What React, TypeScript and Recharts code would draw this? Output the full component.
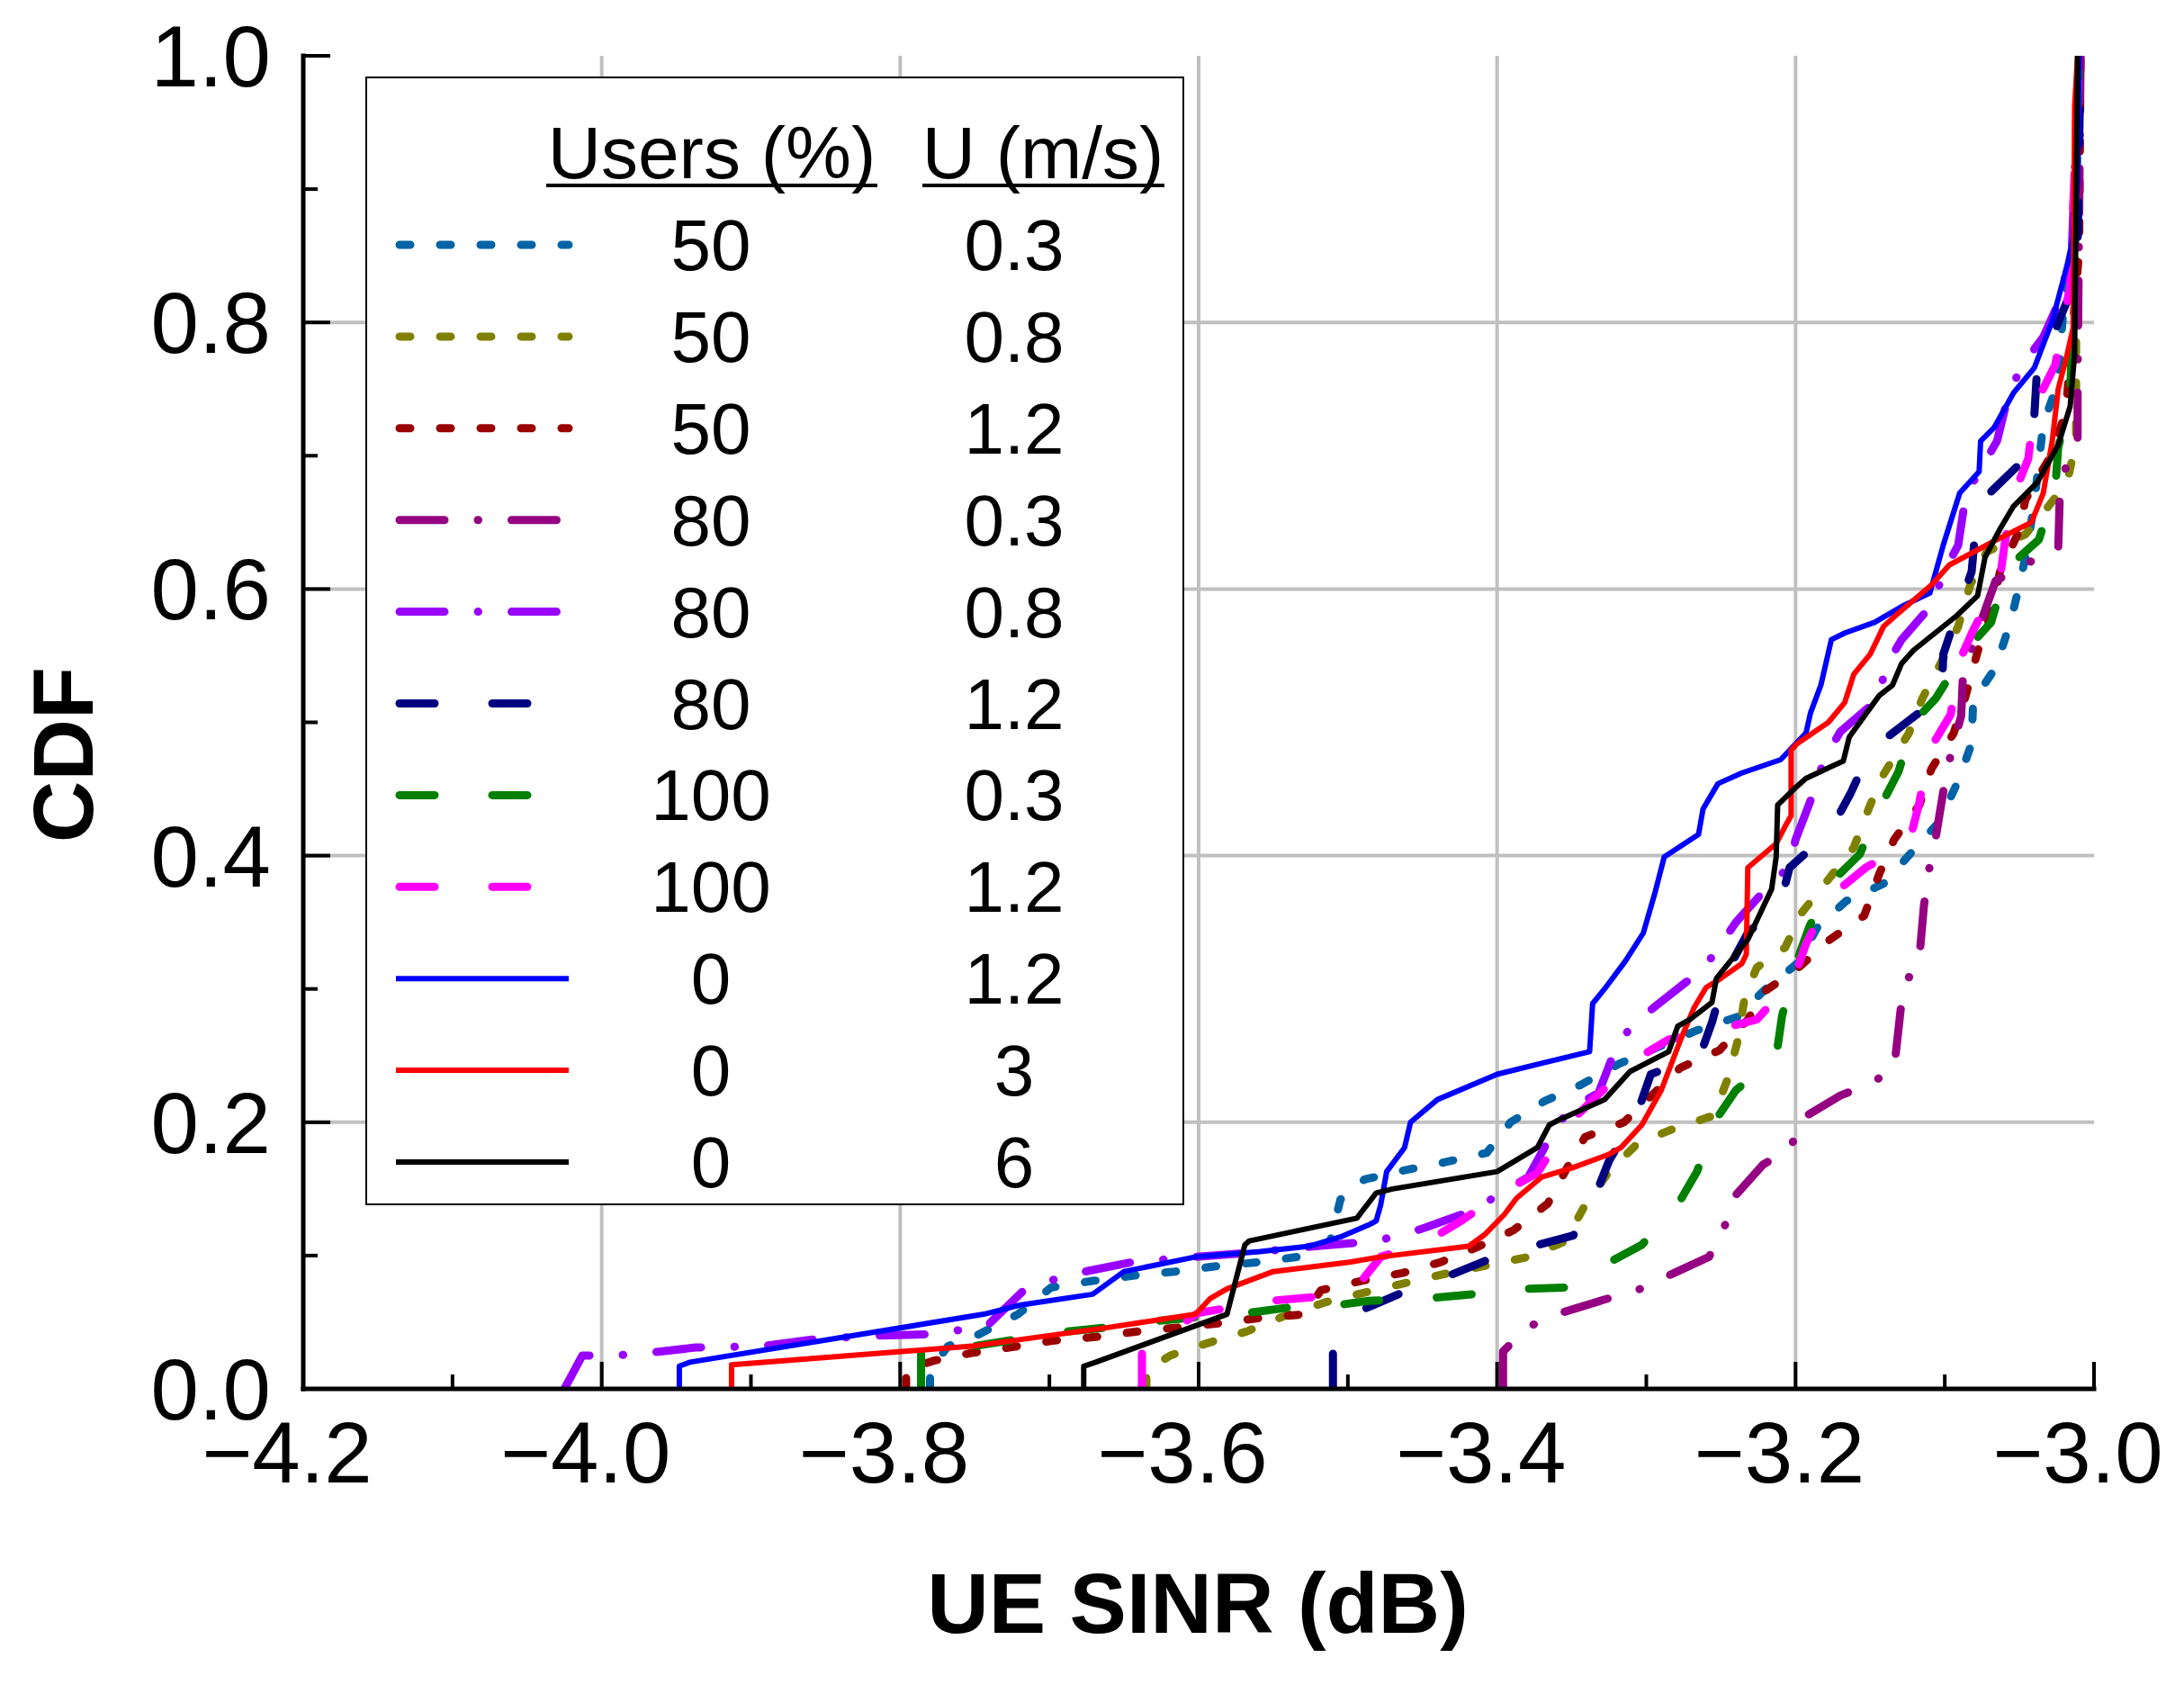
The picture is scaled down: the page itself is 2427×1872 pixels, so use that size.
import React from "react";
import { LineChart, Line, XAxis, YAxis, CartesianGrid, Legend } from "recharts";

type Pt = [number, number];

// CDF curves, [SINR (dB), CDF]
const U50_V03: Pt[] = [
  [-3.78, 0], [-3.78, 0.014], [-3.768, 0.032], [-3.747, 0.041], [-3.721, 0.056], [-3.699, 0.076],
  [-3.671, 0.081], [-3.643, 0.085], [-3.616, 0.088], [-3.588, 0.092], [-3.56, 0.095], [-3.534, 0.099],
  [-3.512, 0.11], [-3.505, 0.142], [-3.489, 0.157], [-3.462, 0.164], [-3.435, 0.17], [-3.407, 0.177],
  [-3.391, 0.2], [-3.368, 0.216], [-3.344, 0.228], [-3.318, 0.244], [-3.293, 0.256], [-3.266, 0.269],
  [-3.239, 0.279], [-3.221, 0.299], [-3.199, 0.319], [-3.185, 0.347], [-3.166, 0.366], [-3.141, 0.379],
  [-3.121, 0.404], [-3.104, 0.425], [-3.091, 0.456], [-3.082, 0.484], [-3.081, 0.516], [-3.066, 0.541],
  [-3.056, 0.575], [-3.05, 0.603], [-3.045, 0.629], [-3.04, 0.665], [-3.034, 0.724], [-3.024, 0.755],
  [-3.022, 0.789], [-3.02, 0.817], [-3.013, 0.848], [-3.012, 0.879], [-3.01, 1.0],
];
const U50_V08: Pt[] = [
  [-3.635, 0], [-3.635, 0.014], [-3.619, 0.025], [-3.595, 0.034], [-3.568, 0.043], [-3.544, 0.054],
  [-3.515, 0.065], [-3.486, 0.073], [-3.459, 0.08], [-3.432, 0.087], [-3.405, 0.093], [-3.379, 0.099],
  [-3.354, 0.111], [-3.341, 0.138], [-3.325, 0.163], [-3.306, 0.184], [-3.282, 0.195], [-3.255, 0.205],
  [-3.246, 0.231], [-3.239, 0.26], [-3.234, 0.294], [-3.226, 0.316], [-3.207, 0.331], [-3.196, 0.357],
  [-3.161, 0.406], [-3.15, 0.438], [-3.141, 0.461], [-3.124, 0.492], [-3.115, 0.518], [-3.102, 0.546],
  [-3.091, 0.572], [-3.083, 0.603], [-3.072, 0.628], [-3.046, 0.641], [-3.032, 0.66], [-3.018, 0.68],
  [-3.012, 0.711], [-3.012, 0.82], [-3.01, 1.0],
];
const U50_V12: Pt[] = [
  [-3.796, 0], [-3.796, 0.014], [-3.778, 0.021], [-3.752, 0.027], [-3.727, 0.031], [-3.699, 0.036],
  [-3.669, 0.039], [-3.641, 0.043], [-3.614, 0.046], [-3.588, 0.049], [-3.56, 0.053], [-3.529, 0.056],
  [-3.518, 0.074], [-3.491, 0.081], [-3.463, 0.087], [-3.438, 0.095], [-3.412, 0.107], [-3.389, 0.119],
  [-3.366, 0.139], [-3.353, 0.166], [-3.341, 0.189], [-3.315, 0.2], [-3.277, 0.241], [-3.251, 0.254],
  [-3.232, 0.277], [-3.221, 0.298], [-3.199, 0.315], [-3.177, 0.337], [-3.154, 0.355], [-3.144, 0.386],
  [-3.134, 0.412], [-3.117, 0.438], [-3.109, 0.465], [-3.094, 0.492], [-3.086, 0.52], [-3.078, 0.553],
  [-3.069, 0.582], [-3.063, 0.613], [-3.05, 0.644], [-3.046, 0.667], [-3.03, 0.698], [-3.019, 0.732],
  [-3.01, 0.853], [-3.009, 1.0],
];
const U80_V03: Pt[] = [
  [-3.396, 0], [-3.396, 0.028], [-3.38, 0.046], [-3.36, 0.056], [-3.328, 0.067], [-3.306, 0.074],
  [-3.289, 0.083], [-3.258, 0.099], [-3.248, 0.12], [-3.242, 0.143], [-3.222, 0.168], [-3.203, 0.181],
  [-3.197, 0.202], [-3.17, 0.22], [-3.15, 0.229], [-3.134, 0.24], [-3.128, 0.3], [-3.117, 0.324],
  [-3.114, 0.362], [-3.111, 0.387], [-3.106, 0.414], [-3.101, 0.448], [-3.097, 0.471], [-3.089, 0.505],
  [-3.088, 0.531], [-3.081, 0.559], [-3.066, 0.606], [-3.046, 0.619], [-3.024, 0.629], [-3.023, 0.668],
  [-3.019, 0.691], [-3.011, 0.711], [-3.011, 0.752], [-3.009, 1.0],
];
const U80_V08: Pt[] = [
  [-4.025, 0], [-4.013, 0.025], [-3.991, 0.025], [-3.969, 0.027], [-3.937, 0.031], [-3.893, 0.032],
  [-3.859, 0.037], [-3.816, 0.04], [-3.78, 0.041], [-3.761, 0.044], [-3.742, 0.047], [-3.718, 0.073],
  [-3.697, 0.082], [-3.676, 0.088], [-3.645, 0.095], [-3.602, 0.099], [-3.567, 0.102], [-3.522, 0.107],
  [-3.489, 0.11], [-3.468, 0.114], [-3.448, 0.121], [-3.416, 0.134], [-3.397, 0.147], [-3.379, 0.159],
  [-3.361, 0.196], [-3.35, 0.211], [-3.332, 0.222], [-3.322, 0.251], [-3.311, 0.271], [-3.294, 0.287],
  [-3.269, 0.309], [-3.255, 0.325], [-3.24, 0.35], [-3.22, 0.375], [-3.204, 0.392], [-3.2, 0.412],
  [-3.187, 0.45], [-3.181, 0.472], [-3.17, 0.493], [-3.144, 0.518], [-3.14, 0.541], [-3.129, 0.562],
  [-3.108, 0.589], [-3.101, 0.612], [-3.091, 0.633], [-3.086, 0.67], [-3.077, 0.688], [-3.065, 0.711],
  [-3.057, 0.747], [-3.048, 0.768], [-3.034, 0.789], [-3.026, 0.809], [-3.015, 0.85], [-3.01, 1.0],
];
const U80_V12: Pt[] = [
  [-3.51, 0], [-3.51, 0.027], [-3.491, 0.059], [-3.464, 0.072], [-3.432, 0.085], [-3.408, 0.096],
  [-3.376, 0.107], [-3.349, 0.115], [-3.336, 0.14], [-3.325, 0.171], [-3.306, 0.207], [-3.297, 0.236],
  [-3.264, 0.25], [-3.256, 0.275], [-3.247, 0.311], [-3.232, 0.342], [-3.21, 0.365], [-3.204, 0.391],
  [-3.177, 0.418], [-3.163, 0.447], [-3.15, 0.479], [-3.128, 0.498], [-3.102, 0.52], [-3.101, 0.551],
  [-3.091, 0.585], [-3.082, 0.613], [-3.079, 0.65], [-3.069, 0.673], [-3.046, 0.698], [-3.04, 0.73],
  [-3.038, 0.768], [-3.028, 0.789], [-3.014, 0.827], [-3.011, 0.858], [-3.009, 1.0],
];
const U100_V03: Pt[] = [
  [-3.786, 0], [-3.786, 0.028], [-3.751, 0.032], [-3.723, 0.037], [-3.688, 0.043], [-3.662, 0.046],
  [-3.628, 0.051], [-3.6, 0.054], [-3.567, 0.057], [-3.54, 0.061], [-3.506, 0.063], [-3.486, 0.066],
  [-3.446, 0.068], [-3.416, 0.071], [-3.384, 0.075], [-3.354, 0.076], [-3.328, 0.093], [-3.303, 0.108],
  [-3.279, 0.138], [-3.266, 0.163], [-3.254, 0.201], [-3.24, 0.224], [-3.213, 0.249], [-3.209, 0.28],
  [-3.201, 0.315], [-3.191, 0.346], [-3.178, 0.378], [-3.157, 0.401], [-3.144, 0.435], [-3.131, 0.463],
  [-3.121, 0.5], [-3.106, 0.518], [-3.086, 0.554], [-3.069, 0.575], [-3.058, 0.616], [-3.037, 0.637],
  [-3.026, 0.675], [-3.024, 0.706], [-3.016, 0.742], [-3.01, 1.0],
];
const U100_V12: Pt[] = [
  [-3.638, 0], [-3.638, 0.029], [-3.6, 0.057], [-3.552, 0.066], [-3.522, 0.069], [-3.493, 0.078],
  [-3.478, 0.099], [-3.448, 0.11], [-3.424, 0.126], [-3.397, 0.147], [-3.373, 0.162], [-3.352, 0.199],
  [-3.333, 0.22], [-3.306, 0.248], [-3.285, 0.262], [-3.254, 0.269], [-3.226, 0.277], [-3.201, 0.308],
  [-3.193, 0.334], [-3.177, 0.369], [-3.153, 0.391], [-3.124, 0.409], [-3.117, 0.44], [-3.111, 0.478],
  [-3.096, 0.506], [-3.091, 0.544], [-3.081, 0.569], [-3.063, 0.608], [-3.06, 0.633], [-3.054, 0.67],
  [-3.044, 0.698], [-3.04, 0.737], [-3.026, 0.768], [-3.02, 0.804], [-3.016, 0.827], [-3.01, 1.0],
];
const U0_V12: Pt[] = [
  [-3.948, 0], [-3.948, 0.017], [-3.941, 0.02], [-3.744, 0.056], [-3.719, 0.063], [-3.671, 0.071],
  [-3.65, 0.088], [-3.602, 0.099], [-3.559, 0.103], [-3.526, 0.107], [-3.505, 0.114], [-3.486, 0.123],
  [-3.481, 0.126], [-3.478, 0.138], [-3.474, 0.163], [-3.462, 0.181], [-3.458, 0.2], [-3.44, 0.217],
  [-3.4, 0.236], [-3.371, 0.244], [-3.338, 0.253], [-3.336, 0.289], [-3.328, 0.3], [-3.314, 0.321],
  [-3.302, 0.342], [-3.294, 0.373], [-3.288, 0.399], [-3.265, 0.416], [-3.262, 0.435], [-3.252, 0.454],
  [-3.236, 0.462], [-3.21, 0.472], [-3.193, 0.492], [-3.19, 0.507], [-3.183, 0.528], [-3.176, 0.562],
  [-3.167, 0.567], [-3.147, 0.575], [-3.127, 0.588], [-3.11, 0.597], [-3.101, 0.633], [-3.09, 0.672],
  [-3.077, 0.688], [-3.076, 0.711], [-3.067, 0.721], [-3.054, 0.747], [-3.04, 0.766], [-3.028, 0.801],
  [-3.018, 0.843], [-3.014, 0.864], [-3.011, 0.905], [-3.01, 1.0],
];
const U0_V3: Pt[] = [
  [-3.913, 0], [-3.913, 0.018], [-3.799, 0.028], [-3.752, 0.032], [-3.661, 0.046], [-3.602, 0.056],
  [-3.592, 0.068], [-3.581, 0.075], [-3.55, 0.088], [-3.499, 0.095], [-3.478, 0.099], [-3.419, 0.107],
  [-3.408, 0.116], [-3.395, 0.131], [-3.387, 0.143], [-3.37, 0.159], [-3.349, 0.166], [-3.325, 0.176],
  [-3.317, 0.181], [-3.303, 0.198], [-3.29, 0.224], [-3.277, 0.262], [-3.268, 0.286], [-3.26, 0.301],
  [-3.25, 0.308], [-3.236, 0.319], [-3.233, 0.326], [-3.232, 0.391], [-3.213, 0.409], [-3.207, 0.422],
  [-3.203, 0.43], [-3.203, 0.479], [-3.199, 0.484], [-3.178, 0.5], [-3.167, 0.515], [-3.161, 0.536],
  [-3.15, 0.551], [-3.141, 0.572], [-3.132, 0.581], [-3.109, 0.603], [-3.097, 0.618], [-3.067, 0.636],
  [-3.042, 0.65], [-3.034, 0.672], [-3.028, 0.711], [-3.024, 0.75], [-3.018, 0.776], [-3.014, 0.796],
  [-3.013, 0.962], [-3.011, 1.0],
];
const U0_V6: Pt[] = [
  [-3.677, 0], [-3.677, 0.017], [-3.669, 0.02], [-3.581, 0.056], [-3.569, 0.108], [-3.566, 0.111],
  [-3.494, 0.128], [-3.481, 0.147], [-3.47, 0.15], [-3.4, 0.163], [-3.373, 0.181], [-3.365, 0.198],
  [-3.36, 0.201], [-3.328, 0.217], [-3.311, 0.238], [-3.285, 0.253], [-3.279, 0.272], [-3.271, 0.277],
  [-3.256, 0.29], [-3.253, 0.308], [-3.232, 0.337], [-3.216, 0.375], [-3.213, 0.399], [-3.212, 0.438],
  [-3.201, 0.45], [-3.193, 0.458], [-3.168, 0.471], [-3.164, 0.489], [-3.144, 0.52], [-3.135, 0.528],
  [-3.129, 0.544], [-3.121, 0.554], [-3.092, 0.58], [-3.078, 0.595], [-3.073, 0.624], [-3.063, 0.645],
  [-3.054, 0.662], [-3.038, 0.68], [-3.024, 0.708], [-3.016, 0.737], [-3.013, 0.776], [-3.011, 1.0],
];

const CURVES = [U50_V03, U50_V08, U50_V12, U80_V03, U80_V08, U80_V12, U100_V03, U100_V12, U0_V12, U0_V3, U0_V6];
const USERS = ["50", "50", "50", "80", "80", "80", "100", "100", "0", "0", "0"];
const SPEEDS = ["0.3", "0.8", "1.2", "0.3", "0.8", "1.2", "0.3", "1.2", "1.2", "3", "6"];
const COLORS = ["#0063a6", "#808000", "#990000", "#960082", "#9900ff", "#000080", "#008000", "#ff00ff", "#0000ff", "#ff0000", "#000000"];
const STYLES = ["short", "short", "short", "dashdot", "dashdot", "long", "long", "long", "solid", "solid", "solid"];
const NAMES = USERS.map((u, i) => `${u}% users, U = ${SPEEDS[i]} m/s`);

const X_TICKS = [-4.2, -4.1, -4.0, -3.9, -3.8, -3.7, -3.6, -3.5, -3.4, -3.3, -3.2, -3.1, -3.0];
const Y_TICKS = [0, 0.1, 0.2, 0.3, 0.4, 0.5, 0.6, 0.7, 0.8, 0.9, 1.0];
const X_GRID = [-4.0, -3.8, -3.6, -3.4, -3.2];
const Y_GRID = [0.2, 0.4, 0.6, 0.8];

const FONT = "'Liberation Sans', Arial, sans-serif";
const DASH: Record<string, string | undefined> = {
  short: "12 33",
  dashdot: "50 37 0.5 37",
  long: "39 64",
  solid: undefined,
};
const widthOf = (s: string) => (s === "solid" ? 6 : 9);

const isMajor = (v: number) => Math.abs(Math.round(v * 10)) % 2 === 0;
const fmt = (v: number) => v.toFixed(1).replace("-", "\u2212");

function BottomTick({ x, y, payload }: any) {
  const major = isMajor(payload.value);
  return (
    <g>
      <line x1={x} x2={x} y1={y} y2={y - (major ? 30 : 16)} stroke="#000" strokeWidth={4} />
      {major && (
        <text x={x - 18} y={y + 104} textAnchor="middle" fontSize={96} fontFamily={FONT} fill="#000">
          {fmt(payload.value)}
        </text>
      )}
    </g>
  );
}

function TopTick({ x, y, payload }: any) {
  const major = isMajor(payload.value);
  return <line x1={x} x2={x} y1={y} y2={y + (major ? 30 : 16)} stroke="#000" strokeWidth={4} />;
}

function LeftTick({ x, y, payload }: any) {
  const major = isMajor(payload.value);
  return (
    <g>
      <line x1={x} x2={x + (major ? 30 : 16)} y1={y} y2={y} stroke="#000" strokeWidth={4} />
      {major && (
        <text x={x - 36} y={y + 34} textAnchor="end" fontSize={96} fontFamily={FONT} fill="#000">
          {payload.value.toFixed(1)}
        </text>
      )}
    </g>
  );
}

function RightTick({ x, y, payload }: any) {
  const major = isMajor(payload.value);
  return <line x1={x} x2={x - (major ? 30 : 16)} y1={y} y2={y} stroke="#000" strokeWidth={4} />;
}

function XTitle(props: any) {
  const vb = props.viewBox;
  return (
    <text x={vb.x + vb.width / 2 - 1} y={vb.y + 271} textAnchor="middle" fontSize={95} fontWeight="bold" fontFamily={FONT} fill="#000">
      UE SINR (dB)
    </text>
  );
}

function YTitle(props: any) {
  const vb = props.viewBox;
  const cx = vb.x + 53;
  const cy = vb.y + vb.height / 2 + 36;
  return (
    <text x={cx} y={cy} transform={`rotate(-90 ${cx} ${cy})`} textAnchor="middle" dominantBaseline="central" fontSize={95} fontWeight="bold" fontFamily={FONT} fill="#000">
      CDF
    </text>
  );
}

function TableLegend({ payload }: any) {
  const rows = (payload || [])
    .map((p: any) => NAMES.indexOf(p.value))
    .filter((i: number) => i >= 0)
    .sort((a: number, b: number) => a - b);
  const txt = { fontSize: 80, fontFamily: FONT, fill: "#000", textAnchor: "middle" as const };
  return (
    <svg width={910} height={1254} style={{ display: "block" }}>
      <rect x={1} y={1} width={908} height={1252} fill="#fff" stroke="#000" strokeWidth={2} />
      <text x={385} y={113} {...txt} fontSize={82}>Users (%)</text>
      <text x={753} y={113} {...txt} fontSize={82}>U (m/s)</text>
      <line x1={201} x2={569} y1={121} y2={121} stroke="#000" strokeWidth={4} />
      <line x1={619} x2={888} y1={121} y2={121} stroke="#000" strokeWidth={4} />
      {rows.map((i: number, r: number) => {
        const cy = 187 + r * 101.9;
        const solid = STYLES[i] === "solid";
        return (
          <g key={i}>
            <line
              x1={solid ? 34 : 38}
              x2={226}
              y1={cy}
              y2={cy}
              stroke={COLORS[i]}
              strokeWidth={widthOf(STYLES[i])}
              strokeDasharray={DASH[STYLES[i]]}
              strokeLinecap={solid ? "butt" : "round"}
            />
            <text x={384} y={cy + 28} {...txt}>{USERS[i]}</text>
            <text x={721} y={cy + 28} {...txt}>{SPEEDS[i]}</text>
          </g>
        );
      })}
    </svg>
  );
}

const axisLine = { stroke: "#000", strokeWidth: 5, strokeLinecap: "square" as const };

export default function App() {
  return (
    <LineChart width={2400} height={1850} margin={{ top: 54, right: 81, left: 9, bottom: 15 }}>
      <CartesianGrid
        stroke="#c0c0c0"
        strokeWidth={4}
        horizontalValues={Y_GRID}
        verticalValues={X_GRID}
      />
      <XAxis
        dataKey="x"
        type="number"
        domain={[-4.2, -3.0]}
        allowDataOverflow
        ticks={X_TICKS}
        interval={0}
        height={300}
        tickSize={0}
        tickMargin={0}
        tickLine={false}
        tick={<BottomTick />}
        axisLine={axisLine}
        label={XTitle}
      />
      <XAxis
        xAxisId="top"
        orientation="top"
        type="number"
        domain={[-4.2, -3.0]}
        allowDataOverflow
        ticks={X_TICKS}
        interval={0}
        height={0}
        tickSize={0}
        tickMargin={0}
        tickLine={false}
        tick={<TopTick />}
        axisLine={axisLine}
      />
      <YAxis
        type="number"
        domain={[0, 1]}
        allowDataOverflow
        ticks={Y_TICKS}
        interval={0}
        width={320}
        tickSize={0}
        tickMargin={0}
        tickLine={false}
        tick={<LeftTick />}
        axisLine={axisLine}
        label={YTitle}
      />
      <YAxis
        yAxisId="right"
        orientation="right"
        type="number"
        domain={[0, 1]}
        allowDataOverflow
        ticks={Y_TICKS}
        interval={0}
        width={0}
        tickSize={0}
        tickMargin={0}
        tickLine={false}
        tick={<RightTick />}
        axisLine={axisLine}
      />
      <Legend
        layout="vertical"
        align="center"
        verticalAlign="middle"
        content={<TableLegend />}
        wrapperStyle={{ left: 398, top: 77, width: 910, height: 1254 }}
      />
      {CURVES.map((curve, i) => (
        <Line
          key={NAMES[i]}
          name={NAMES[i]}
          data={curve.map(([x, y]) => ({ x, y }))}
          dataKey="y"
          type="linear"
          stroke={COLORS[i]}
          strokeWidth={widthOf(STYLES[i])}
          strokeDasharray={DASH[STYLES[i]]}
          strokeLinecap="round"
          strokeLinejoin="round"
          dot={false}
          activeDot={false}
          isAnimationActive={false}
        />
      ))}
    </LineChart>
  );
}
